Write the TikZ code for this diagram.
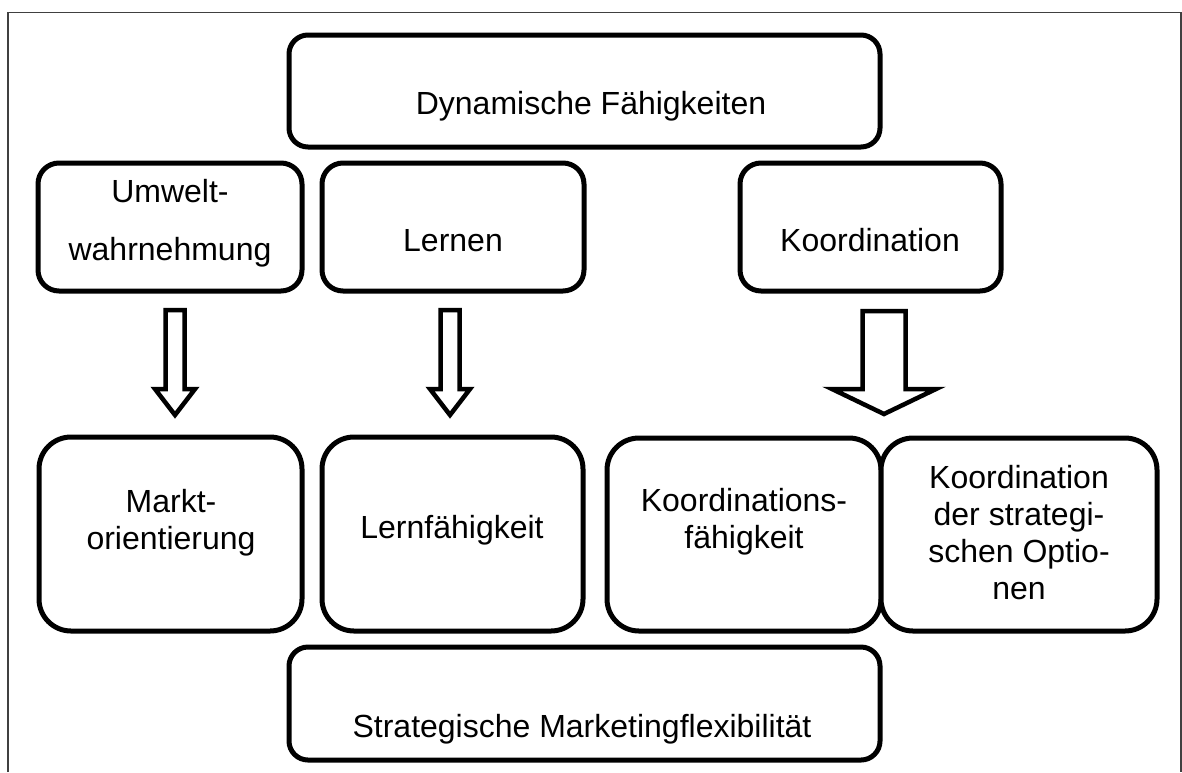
\documentclass[tikz,border=0pt]{standalone}
\usepackage{fontspec}
\setmainfont{Liberation Sans}
% hollow block arrow pointing down: centre x, top y, head base y, tip y, shaft half width, head half width
\newcommand{\hollowdown}[6]{%
  \draw[blk] (#1-#5,#2) -- (#1+#5,#2) -- (#1+#5,#3) -- (#1+#6,#3) -- (#1,#4)
    -- (#1-#6,#3) -- (#1-#5,#3) -- cycle;}
\begin{document}
\begin{tikzpicture}[x=1pt,y=-1pt,
  bx/.style={draw=black, line width=5pt, fill=white, inner sep=0pt, outer sep=0pt},
  txt/.style={inner sep=0pt, anchor=base, align=center, font=\fontsize{32}{37}\selectfont},
  frameline/.style={draw=black!75, line width=1.5pt},
  blk/.style={draw=black, line width=4.5pt, fill=white, line join=miter}]
\useasboundingbox (0,0) rectangle (1182,772);

% outer frame, open at the bottom
\draw[frameline] (8,772) -- (8,12.5) -- (1181.2,12.5) -- (1181.2,772);

% boxes
\node[bx, minimum width=591pt, minimum height=112pt, rounded corners=19pt] (dyn) at (584.5,91) {};
\node[bx, minimum width=264pt, minimum height=128pt, rounded corners=21pt] (umw) at (170,227) {};
\node[bx, minimum width=262pt, minimum height=128pt, rounded corners=21pt] (lern) at (453,227) {};
\node[bx, minimum width=261pt, minimum height=128pt, rounded corners=21pt] (koo) at (870.5,227) {};
\node[bx, minimum width=263pt, minimum height=194pt, rounded corners=32pt] (markt) at (170.5,534) {};
\node[bx, minimum width=261pt, minimum height=194pt, rounded corners=32pt] (lf) at (452.5,534) {};
\node[bx, minimum width=274pt, minimum height=193pt, rounded corners=32pt] (kf) at (744,534.5) {};
\node[bx, minimum width=276pt, minimum height=193pt, rounded corners=32pt] (kso) at (1019,534.5) {};
\node[bx, minimum width=591pt, minimum height=113pt, rounded corners=19pt] (smf) at (584.5,703.5) {};

% labels (base anchor = baseline of the last line)
\node[txt] (dyn-t) at (591,114) {Dynamische Fähigkeiten};
\node[txt] (umw-t) at (170,260) {Umwelt-\\[21pt]wahrnehmung};
\node[txt] (lern-t) at (453,251) {Lernen};
\node[txt] (koo-t) at (870,251) {Koordination};
\node[txt] (markt-t) at (171,549) {Markt-\\orientierung};
\node[txt] (lf-t) at (452,538) {Lernfähigkeit};
\node[txt] (kf-t) at (744,548) {Koordinations-\\fähigkeit};
\node[txt] (kso-t) at (1019,599) {Koordination\\der strategi-\\schen Optio-\\nen};
\node[txt] (smf-t) at (582,737) {Strategische Marketingflexibilität};

% hollow arrows between the rows
\hollowdown{175}{310}{389}{415}{9.5}{20}
\hollowdown{450}{310}{389}{415}{9.5}{20}
\hollowdown{884}{311}{389}{414}{21.5}{52}
\end{tikzpicture}
\end{document}
